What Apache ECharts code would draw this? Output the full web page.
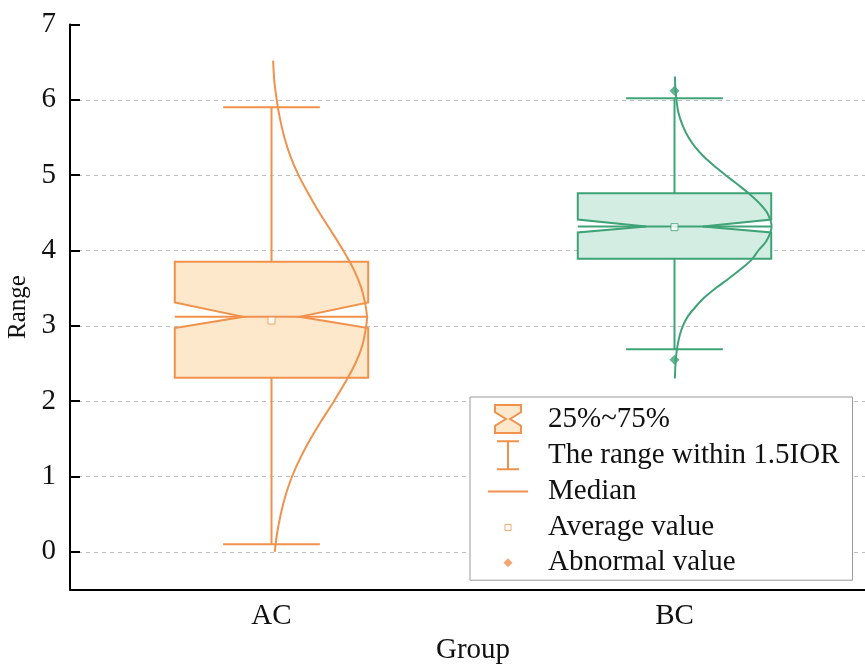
<!DOCTYPE html>
<html>
<head>
<meta charset="utf-8">
<script src="https://cdn.jsdelivr.net/npm/echarts@6/dist/echarts.min.js"></script>
<style>html,body{margin:0;padding:0;background:#fff}#chart{width:865px;height:666px}</style>
</head>
<body>
<div id="chart"></div>
<script>
// ---- data ----
const categories = ['AC', 'BC'];
const whiskerLow  = [0.10, 2.69];
const q1          = [2.31, 3.89];
const median      = [3.12, 4.32];
const q3          = [3.85, 4.76];
const whiskerHigh = [5.90, 6.02];
const notchLow    = [2.97, 4.24];
const notchHigh   = [3.31, 4.41];
const meanValue   = [3.07, 4.31];
const outlierCat  = [1, 1];
const outlierVal  = [6.12, 2.55];
// normal-curve overlays: y value and horizontal extent to the right of the category centre (category units)
const acCurveY = [6.52, 6.25, 6.0, 5.75, 5.5, 5.25, 5.0, 4.75, 4.5, 4.25, 4.0, 3.75, 3.5, 3.25, 3.1, 3.0,
                  2.75, 2.5, 2.25, 2.0, 1.75, 1.5, 1.25, 1.0, 0.75, 0.5, 0.25, 0.0];
const acCurveW = [0.004, 0.007, 0.013, 0.021, 0.032, 0.047, 0.067, 0.092, 0.119, 0.149, 0.178, 0.204, 0.223, 0.234, 0.237, 0.235,
                  0.226, 0.208, 0.183, 0.155, 0.125, 0.097, 0.072, 0.051, 0.035, 0.023, 0.014, 0.008];
const bcCurveY = [6.31, 6.125, 6.0, 5.875, 5.75, 5.625, 5.5, 5.375, 5.25, 5.125, 5.0, 4.875, 4.75, 4.625, 4.5, 4.32,
                  4.125, 4.0, 3.875, 3.75, 3.625, 3.5, 3.375, 3.25, 3.125, 3.0, 2.875, 2.75, 2.625, 2.5, 2.3];
const bcCurveW = [0.001, 0.0025, 0.005, 0.008, 0.014, 0.023, 0.035, 0.051, 0.072, 0.098, 0.127, 0.157, 0.186, 0.211, 0.230, 0.241,
                  0.228, 0.208, 0.191, 0.164, 0.134, 0.102, 0.074, 0.052, 0.033, 0.021, 0.013, 0.008, 0.0045, 0.0025, 0.001];
const legendNames = ['25%~75%', 'The range within 1.5IOR', 'Median', 'Average value', 'Abnormal value'];

// ---- styles ----
const STROKE = ['#F0914C', '#3FA378'];
const FILL = ['#FDE8CB', '#D4EDE2'];
const FONT = "'Liberation Serif', 'Times New Roman', serif";
const BOX_HALF = 0.24, CAP_HALF = 0.12, NOTCH_TIP = 0.07;

const chart = echarts.init(document.getElementById('chart'), null, {renderer: 'canvas'});

function boxRender(params, api) {
  const i = params.dataIndex;
  const x = api.value(0);
  const Q1 = api.value(1), M = api.value(2), Q3 = api.value(3), NL = api.value(4), NH = api.value(5);
  const L = api.coord([x - BOX_HALF, 0])[0], R = api.coord([x + BOX_HALF, 0])[0];
  const TL = api.coord([x - NOTCH_TIP, 0])[0], TR = api.coord([x + NOTCH_TIP, 0])[0];
  const y = v => api.coord([x, v])[1];
  const pts = [[L, y(Q3)], [R, y(Q3)], [R, y(NH)], [TR, y(M)], [R, y(NL)], [R, y(Q1)],
               [L, y(Q1)], [L, y(NL)], [TL, y(M)], [L, y(NH)]];
  return {type: 'polygon', shape: {points: pts},
          style: {fill: FILL[i], stroke: STROKE[i], lineWidth: 2}};
}
function whiskerRender(params, api) {
  const i = params.dataIndex;
  const x = api.value(0);
  const lo = api.value(1), Q1 = api.value(2), Q3 = api.value(3), hi = api.value(4);
  const cx = api.coord([x, 0])[0];
  const cl = api.coord([x - CAP_HALF, 0])[0], cr = api.coord([x + CAP_HALF, 0])[0];
  const y = v => api.coord([x, v])[1];
  const st = {stroke: STROKE[i], lineWidth: 2};
  return {type: 'group', children: [
    {type: 'line', shape: {x1: cx, y1: y(Q3), x2: cx, y2: y(hi)}, style: st},
    {type: 'line', shape: {x1: cx, y1: y(Q1), x2: cx, y2: y(lo)}, style: st},
    {type: 'line', shape: {x1: cl, y1: y(hi), x2: cr, y2: y(hi)}, style: st},
    {type: 'line', shape: {x1: cl, y1: y(lo), x2: cr, y2: y(lo)}, style: st}
  ]};
}
function medianRender(params, api) {
  const i = params.dataIndex;
  const x = api.value(0);
  const p1 = api.coord([x - BOX_HALF, api.value(1)]);
  const p2 = api.coord([x + BOX_HALF, api.value(1)]);
  return {type: 'line', shape: {x1: p1[0], y1: p1[1], x2: p2[0], y2: p2[1]},
          style: {stroke: STROKE[i], lineWidth: 2}};
}

const boxData = categories.map((c, i) => [i, q1[i], median[i], q3[i], notchLow[i], notchHigh[i]]);
const whiskerData = categories.map((c, i) => [i, whiskerLow[i], q1[i], q3[i], whiskerHigh[i]]);
const medianData = categories.map((c, i) => [i, median[i]]);
const meanData = categories.map((c, i) => ({value: [i, meanValue[i]], itemStyle: {color: '#fff', borderColor: STROKE[i], borderWidth: 1}}));
const outlierData = outlierCat.map((c, k) => ({value: [c, outlierVal[k]], itemStyle: {color: STROKE[c]}}));
const acCurve = acCurveY.map((v, k) => [0 + acCurveW[k], v]);
const bcCurve = bcCurveY.map((v, k) => [1 + bcCurveW[k], v]);

const OR = STROKE[0];
const option = {
  backgroundColor: '#fff',
  animation: false,
  grid: {left: 70, right: -11, top: 24.5, bottom: 76.5, containLabel: false, outerBoundsMode: 'none'},
  xAxis: [
    {type: 'category', data: categories, boundaryGap: true,
     axisLine: {onZero: false, lineStyle: {color: '#000', width: 2}}, axisTick: {show: false},
     axisLabel: {fontFamily: FONT, fontSize: 29, color: '#111', margin: 12},
     splitLine: {show: false},
     name: 'Group', nameLocation: 'middle', nameGap: 46,
     nameTextStyle: {fontFamily: FONT, fontSize: 29, color: '#111'}},
    {type: 'value', min: -0.5, max: 1.5, show: false, position: 'bottom', axisLine: {onZero: false}}
  ],
  yAxis: {type: 'value', min: -0.5, max: 7, splitNumber: 7,
    axisLine: {show: true, onZero: false, lineStyle: {color: '#000', width: 2}},
    axisTick: {show: true, inside: true, length: 10, lineStyle: {color: '#000', width: 2}},
    axisLabel: {fontFamily: FONT, fontSize: 29, color: '#111', margin: 14,
      formatter: v => (Math.abs(v - Math.round(v)) < 1e-9 ? String(Math.round(v)) : '')},
    splitLine: {show: true, showMinLine: false, showMaxLine: false,
      lineStyle: {color: '#bdbdbd', type: [4, 4], width: 1}},
    name: 'Range', nameLocation: 'middle', nameGap: 30, nameRotate: 90,
    nameTextStyle: {fontFamily: FONT, fontSize: 25, color: '#111'}},
  legend: {
    orient: 'vertical', left: 470, top: 397, selectedMode: false,
    backgroundColor: '#fff', borderColor: '#999', borderWidth: 1,
    padding: [7, 13, 3, 17], itemWidth: 40, itemHeight: 28, itemGap: 6.3,
    textStyle: {fontFamily: FONT, fontSize: 29, color: '#111', padding: [0, 0, 0, 15]},
    data: [
      {name: legendNames[0], icon: 'path://M0,0 L25,0 L25,7 L14.5,13.5 L25,20 L25,27 L0,27 L0,20 L10.5,13.5 L0,7 Z',
       itemStyle: {color: FILL[0], borderColor: OR, borderWidth: 2}},
      {name: legendNames[1], icon: 'path://M0,1 L22,1 M11,1 L11,29 M0,29 L22,29',
       itemStyle: {color: 'rgba(0,0,0,0)', borderColor: OR, borderWidth: 2}},
      {name: legendNames[2], icon: 'path://M0,0 M40,28 M0,14 L40,14',
       itemStyle: {color: 'rgba(0,0,0,0)', borderColor: OR, borderWidth: 2}},
      {name: legendNames[3], icon: 'path://M0,0 M40,28 M17,11 L23,11 L23,17 L17,17 Z',
       itemStyle: {color: '#fff', borderColor: OR, borderWidth: 1}},
      {name: legendNames[4], icon: 'path://M0,0 M40,28 M20,9.5 L24.5,14 L20,18.5 L15.5,14 Z',
       itemStyle: {color: OR, borderColor: OR, borderWidth: 0}}
    ]
  },
  series: [
    {name: legendNames[0], type: 'custom', xAxisIndex: 1, yAxisIndex: 0, renderItem: boxRender,
     encode: {x: 0, y: [1, 2, 3]}, data: boxData, itemStyle: {color: OR}},
    {name: legendNames[1], type: 'custom', xAxisIndex: 1, yAxisIndex: 0, renderItem: whiskerRender,
     encode: {x: 0, y: [1, 4]}, data: whiskerData, itemStyle: {color: OR}},
    {name: legendNames[2], type: 'custom', xAxisIndex: 1, yAxisIndex: 0, renderItem: medianRender,
     encode: {x: 0, y: 1}, data: medianData, itemStyle: {color: OR}},
    {name: 'AC curve', type: 'line', xAxisIndex: 1, yAxisIndex: 0, data: acCurve, smooth: 0.3,
     showSymbol: false, symbol: 'none', lineStyle: {color: STROKE[0], width: 2}, itemStyle: {color: STROKE[0]}},
    {name: 'BC curve', type: 'line', xAxisIndex: 1, yAxisIndex: 0, data: bcCurve, smooth: 0.3,
     showSymbol: false, symbol: 'none', lineStyle: {color: STROKE[1], width: 2}, itemStyle: {color: STROKE[1]}},
    {name: legendNames[3], type: 'scatter', xAxisIndex: 1, yAxisIndex: 0, symbol: 'rect', symbolSize: 7,
     data: meanData, itemStyle: {color: '#fff', borderColor: OR, borderWidth: 1}},
    {name: legendNames[4], type: 'scatter', xAxisIndex: 1, yAxisIndex: 0, symbol: 'diamond', symbolSize: 10,
     data: outlierData, itemStyle: {color: OR}}
  ]
};
chart.setOption(option);
</script>
</body>
</html>
